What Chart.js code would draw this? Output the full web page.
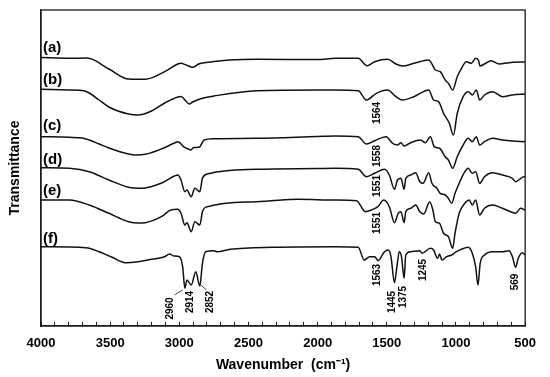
<!DOCTYPE html>
<html>
<head>
<meta charset="utf-8">
<script src="https://cdn.jsdelivr.net/npm/chart.js@4"></script>
<style>
  body { margin: 0; background: #fff; }
</style>
</head>
<body>
<canvas id="ftirChart" width="550" height="377"></canvas>
<script>
// Spectra (wavenumber in cm-1, transmittance in stacked arbitrary units)
const waveA = [4000, 3794, 3666, 3509, 3367, 3246, 3106, 3011, 2990, 2950, 2904, 2860, 2819, 2442, 2001, 1873, 1707, 1643, 1588, 1494, 1434, 1387, 1304, 1197, 1174, 1149, 1114, 1078, 1055, 1024, 991, 960, 925, 889, 858, 836, 827, 794, 747, 687, 616, 500];
const transA = [268.5, 267.7, 268, 257, 247, 246.7, 254.3, 262, 262.7, 261, 258.7, 262, 263.3, 266.7, 266.5, 267.7, 267.7, 260.3, 264.3, 266.7, 262, 260, 262.7, 266, 262, 256, 254.3, 246, 242.7, 236, 249.3, 257.7, 264.3, 262.7, 267.7, 265.3, 260, 262, 265.3, 262, 263.3, 264.3];

const waveB = [4000, 3794, 3701, 3651, 3580, 3509, 3367, 3296, 3201, 3106, 3011, 2988, 2952, 2928, 2904, 2833, 2750, 2442, 2001, 1873, 1707, 1647, 1576, 1494, 1434, 1387, 1304, 1197, 1162, 1126, 1090, 1048, 1019, 991, 948, 912, 882, 853, 829, 794, 735, 664, 592, 500];
const transB = [236.7, 236, 235.5, 233, 226, 219, 212, 211, 215, 223, 229, 229.5, 225, 222, 224, 227.7, 230, 235.3, 236, 236, 235.3, 226, 232.7, 236, 229.3, 226, 229.3, 236, 226, 224.3, 212.7, 202.7, 191, 212.7, 229.3, 234.3, 231, 236, 226, 231, 234.3, 229.3, 231, 232];

const waveC = [4000, 3794, 3701, 3651, 3580, 3509, 3367, 3317, 3246, 3130, 3035, 3011, 2963, 2935, 2919, 2895, 2857, 2821, 2750, 2442, 2001, 1873, 1707, 1647, 1588, 1505, 1458, 1423, 1398, 1375, 1327, 1256, 1221, 1185, 1157, 1119, 1078, 1055, 1024, 991, 948, 912, 882, 853, 829, 794, 735, 664, 592, 500];
const transC = [189.3, 188.7, 188, 186, 182, 178, 172, 171, 171.7, 177, 183, 184.3, 178.7, 177, 176, 178.5, 178.7, 186, 187.3, 187.7, 189.5, 190, 189.3, 182, 185.3, 189.3, 182.7, 181, 183.3, 180, 183.3, 186, 183.3, 189.3, 179.3, 177.7, 169.3, 166, 157.7, 169.3, 181, 187.7, 184.3, 189.3, 181, 184.3, 187.7, 186, 185, 184.3];

const waveD = [4000, 3794, 3651, 3509, 3367, 3274, 3132, 3035, 3011, 2988, 2960, 2945, 2914, 2888, 2852, 2833, 2798, 2442, 2001, 1873, 1707, 1647, 1588, 1517, 1482, 1445, 1423, 1398, 1375, 1363, 1327, 1292, 1261, 1238, 1197, 1174, 1138, 1114, 1078, 1055, 1031, 1007, 972, 936, 912, 882, 858, 829, 794, 735, 664, 592, 569, 509, 500];
const transD = [158.3, 157.7, 154.3, 146, 138.7, 137.7, 142.7, 150, 151, 146, 134.3, 136, 129.3, 137.7, 134.3, 147.7, 152, 156.7, 157.5, 157.7, 156.7, 149.3, 152.7, 156.7, 151, 136.7, 146, 147.7, 136.7, 147.7, 151, 153.3, 144.3, 142.7, 153.3, 142.7, 137.7, 132.7, 131, 127.7, 122.7, 132.7, 144.3, 154.3, 157.7, 152.7, 154.3, 142.7, 149.3, 153.3, 151, 147.7, 144.3, 149.3, 149];

const waveE = [4000, 3794, 3651, 3509, 3367, 3296, 3248, 3130, 3061, 3011, 2988, 2960, 2945, 2914, 2888, 2852, 2833, 2798, 2442, 2335, 2143, 1873, 1719, 1655, 1612, 1565, 1522, 1482, 1445, 1418, 1398, 1375, 1363, 1327, 1292, 1261, 1233, 1190, 1167, 1149, 1119, 1090, 1055, 1024, 1007, 977, 936, 905, 882, 858, 829, 794, 735, 664, 605, 569, 533, 500];
const transE = [126, 126, 121, 112.7, 104.3, 103, 103.3, 109.3, 116, 116.7, 112.7, 101, 103.3, 94.3, 104.3, 101, 114.3, 119.3, 124.3, 125.3, 126.7, 126, 125.3, 114.3, 116, 119.3, 126, 119.3, 103.3, 112.7, 114.3, 103.3, 114.3, 117.7, 121, 114.3, 112, 124.3, 116, 104.3, 102.7, 92.7, 89.3, 77.7, 92.7, 112.7, 122.7, 126, 121, 126, 111, 117.7, 121, 117.7, 114.3, 112.7, 117.7, 116];

const waveF = [4000, 3675, 3580, 3486, 3390, 3296, 3201, 3106, 3070, 3040, 2999, 2976, 2960, 2945, 2914, 2881, 2852, 2833, 2810, 2750, 2727, 2632, 2323, 1873, 1707, 1664, 1624, 1588, 1563, 1517, 1489, 1470, 1445, 1427, 1410, 1394, 1375, 1363, 1327, 1261, 1245, 1185, 1162, 1133, 1119, 1102, 1067, 1031, 996, 960, 912, 882, 858, 841, 825, 794, 735, 664, 616, 592, 569, 550, 521, 500];
const transF = [79.3, 78.3, 74.3, 68.7, 63.3, 64.3, 66.7, 69.3, 72, 70, 69.3, 59.3, 37.7, 46, 41, 54.3, 40, 62.7, 74.3, 75.3, 74.3, 76.7, 78.7, 79.3, 78.7, 66, 69.3, 69.3, 65.3, 74.3, 76, 69.3, 43.3, 59.3, 74.3, 69.3, 47.7, 71, 74.3, 75.3, 72.7, 77.7, 76, 67.7, 72, 66, 69.3, 71, 74.3, 76.7, 78.7, 72.7, 59.3, 41, 62.7, 71, 74.3, 74.3, 75.3, 69.3, 58.7, 67.7, 73.3, 71];

const traceNames = ["(a)", "(b)", "(c)", "(d)", "(e)", "(f)"];
const peakTexts = ["1564", "1558", "1551", "1551", "1563", "1445", "1375", "1245", "569", "2960", "2914", "2852"];

// where the labels sit (wavenumber, level on the y scale)
const nameLevels = [278.5, 246, 200, 166, 135, 87];
const peakSpots = [
  [1571, 213], [1571, 170], [1571, 140], [1567, 103], [1567, 51],
  [1460, 24], [1382, 29], [1240, 56], [575, 44],
  [3065, 17.5], [2919, 24], [2780, 24]
];
const leaderLines = [
  [3035, 31, 2976, 36],
  [2845, 41, 2803, 36]
];

const FONT = '"Liberation Sans", Arial, sans-serif';

const spectra = [
  [waveA, transA], [waveB, transB], [waveC, transC],
  [waveD, transD], [waveE, transE], [waveF, transF]
];

// frame, trace names and peak labels
const overlay = {
  id: "overlay",
  afterDraw(chart) {
    const { ctx, chartArea, scales: { x, y } } = chart;
    ctx.save();
    ctx.strokeStyle = "#1a1a1a";
    ctx.lineWidth = 1.3;
    ctx.strokeRect(chartArea.left, chartArea.top, chartArea.width, chartArea.height);

    ctx.fillStyle = "#000";
    ctx.textBaseline = "middle";
    ctx.textAlign = "left";
    ctx.font = "bold 15px " + FONT;
    traceNames.forEach((name, i) => {
      ctx.fillText(name, chartArea.left + 2, y.getPixelForValue(nameLevels[i]));
    });

    ctx.font = "bold 10px " + FONT;
    ctx.textAlign = "center";
    peakTexts.forEach((txt, i) => {
      ctx.save();
      ctx.translate(x.getPixelForValue(peakSpots[i][0]), y.getPixelForValue(peakSpots[i][1]));
      ctx.rotate(-Math.PI / 2);
      ctx.fillText(txt, 0, 0);
      ctx.restore();
    });

    ctx.lineWidth = 0.8;
    leaderLines.forEach(l => {
      ctx.beginPath();
      ctx.moveTo(x.getPixelForValue(l[0]), y.getPixelForValue(l[1]));
      ctx.lineTo(x.getPixelForValue(l[2]), y.getPixelForValue(l[3]));
      ctx.stroke();
    });
    ctx.restore();
  }
};

document.addEventListener("DOMContentLoaded", () => {
  const ctx = document.getElementById("ftirChart").getContext("2d");
  new Chart(ctx, {
    type: "line",
    data: {
      datasets: spectra.map((s, i) => ({
        label: traceNames[i],
        data: s[0].map((w, j) => ({ x: w, y: s[1][j] })),
        borderColor: "#111",
        borderWidth: 1.5,
        pointRadius: 0,
        fill: false,
        cubicInterpolationMode: "monotone",
      })),
    },
    options: {
      responsive: false,
      devicePixelRatio: 1,
      animation: false,
      layout: { padding: { top: 10, right: 17, left: 0, bottom: 0 } },
      plugins: {
        legend: { display: false },
        tooltip: { enabled: false },
      },
      scales: {
        x: {
          type: "linear",
          reverse: true,
          min: 500,
          max: 4000,
          afterFit: (scale) => { scale.height = 51; },
          grid: { drawOnChartArea: false, color: "#1a1a1a", tickLength: -4, lineWidth: 1 },
          border: { color: "#1a1a1a", width: 1.3 },
          ticks: {
            stepSize: 100,
            autoSkip: false,
            maxRotation: 0,
            padding: 14,
            color: "#000",
            font: { family: FONT, size: 13, weight: "bold" },
            callback: (v) => (v % 500 === 0 ? String(v) : ""),
          },
          title: {
            display: true,
            text: "Wavenumber  (cm\u207B\u00B9)",
            color: "#000",
            font: { family: FONT, size: 14, weight: "bold" },
            padding: { top: 0, bottom: 3 },
          },
        },
        y: {
          min: 0,
          max: 316,
          afterFit: (scale) => { scale.width = 41; },
          grid: { display: false },
          border: { color: "#1a1a1a", width: 1.3 },
          ticks: { display: false },
          title: {
            display: true,
            text: "Transmittance",
            color: "#000",
            font: { family: FONT, size: 14, weight: "bold" },
            padding: { top: 7, bottom: 0 },
          },
        },
      },
    },
    plugins: [overlay],
  });
});
</script>
</body>
</html>
